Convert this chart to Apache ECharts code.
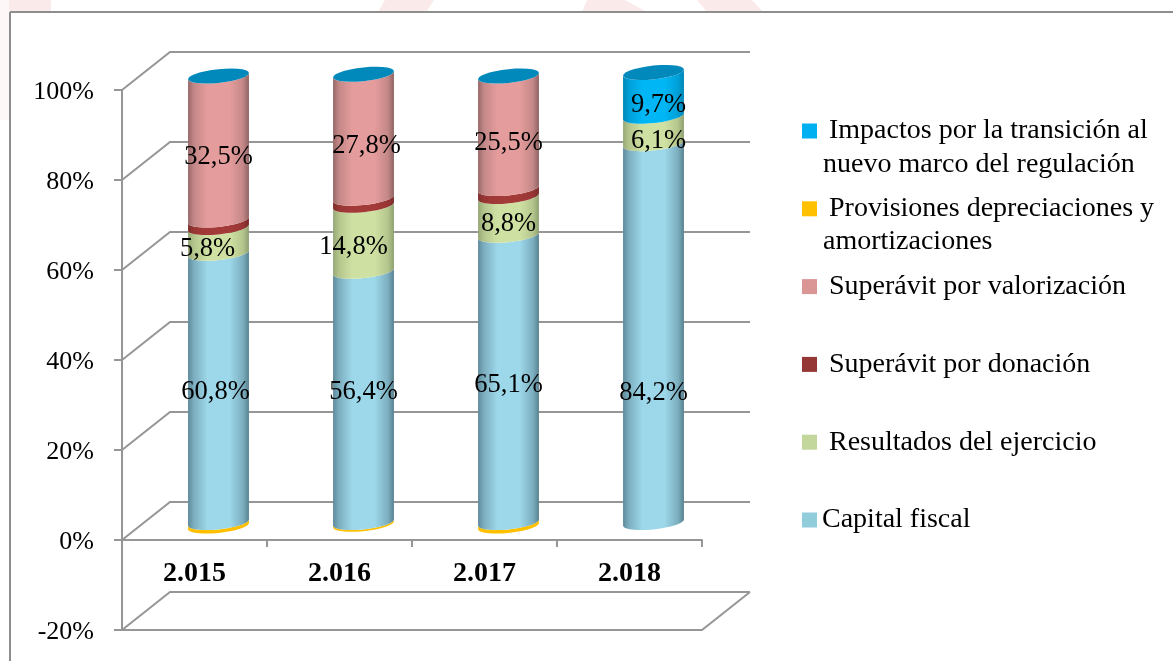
<!DOCTYPE html>
<html>
<head>
<meta charset="utf-8">
<style>html,body{margin:0;padding:0;background:#fff}#chart{width:1173px;height:661px}</style>
<script src="https://cdn.jsdelivr.net/npm/echarts@6/dist/echarts.min.js"></script>
</head>
<body>
<div id="chart"></div>
<script>
var categories = ['2.015', '2.016', '2.017', '2.018'];
var yTicks = [100, 80, 60, 40, 20, 0, -20];

// stacked bottom-up (percent)
var capitalFiscal   = [60.8, 56.4, 65.1, 84.2];
var resultados      = [5.8, 14.8, 8.8, 6.1];
var donacion        = [1.7, 1.6, 1.8, 0];
var valorizacion    = [32.5, 27.8, 25.5, 0];
var impactos        = [0, 0, 0, 9.7];
var provisiones     = [-0.8, -0.4, -0.8, 0];

var capitalLabels      = ['60,8%', '56,4%', '65,1%', '84,2%'];
var resultadosLabels   = ['5,8%', '14,8%', '8,8%', '6,1%'];
var valorizacionLabels = ['32,5%', '27,8%', '25,5%', ''];
var impactosLabels     = ['', '', '', '9,7%'];

// hand-placed label nudges from the centre of each segment, [dx, dy] px
var capitalNudge      = [[-3, 4], [0, -5], [0, 6], [0, 60]];
var resultadosNudge   = [[-11, 9], [-10, 9], [0, 8], [5, 11]];
var valorizacionNudge = [[0, 9], [3, 10], [0, 11], [0, 0]];
var impactosNudge     = [[0, 0], [0, 0], [0, 0], [5, 11]];

var legendLines = {
  'Impactos por la transición al nuevo marco del regulación': [' Impactos por la transición al', 'nuevo marco del regulación'],
  'Provisiones depreciaciones y amortizaciones': [' Provisiones depreciaciones y', 'amortizaciones'],
  'Superávit por valorización': [' Superávit por valorización'],
  'Superávit por donación': [' Superávit por donación'],
  'Resultados del ejercicio': [' Resultados del ejercicio'],
  'Capital fiscal': ['Capital fiscal']
};
var legendOrder = Object.keys(legendLines);

var FONT = '"Liberation Serif","Times New Roman",serif';
var DX = 24, DY = -17.5;       // 3D depth of the bars
var WX = 48, WY = -38;         // 3D depth of the walls
var LINE = '#969696';

function shade(edgeL, mid, edgeR) {
  return { type: 'linear', x: 0, y: 0, x2: 1, y2: 0, colorStops: [
    { offset: 0, color: edgeL }, { offset: 0.1, color: mid[0] }, { offset: 0.32, color: mid[1] },
    { offset: 0.68, color: mid[1] }, { offset: 0.9, color: mid[0] }, { offset: 1, color: edgeR } ] };
}
var looks = {
  prov: { legend: '#FFC000', body: '#FFC000' },
  cap:  { legend: '#92CDDC', body: shade('#5f8b9b', ['#7cafc0', '#9dd8ea'], '#598290') },
  res:  { legend: '#C3D69B', body: shade('#97a878', ['#b4c68c', '#cfe1a2'], '#8fa072') },
  don:  { legend: '#953735', body: shade('#7c2e2c', ['#983634', '#a23a38'], '#762c2a') },
  val:  { legend: '#D99694', body: shade('#976968', ['#c48888', '#e59c9c'], '#8f6463') },
  imp:  { legend: '#00B0F0', body: shade('#0086b5', ['#00a0d8', '#00b6f4'], '#0086b5') }
};

// 100% stack: each value is divided by the column's absolute sum
var stackOrder = [
  { name: legendOrder[4], key: 'res', vals: resultados, labels: resultadosLabels, nudge: resultadosNudge },
  { name: legendOrder[3], key: 'don', vals: donacion },
  { name: legendOrder[2], key: 'val', vals: valorizacion, labels: valorizacionLabels, nudge: valorizacionNudge },
  { name: legendOrder[0], key: 'imp', vals: impactos, labels: impactosLabels, nudge: impactosNudge, cap: true }
];
stackOrder.unshift({ name: legendOrder[5], key: 'cap', vals: capitalFiscal, labels: capitalLabels, nudge: capitalNudge });

var totals = categories.map(function (_, i) {
  return capitalFiscal[i] + resultados[i] + donacion[i] + valorizacion[i] + impactos[i] + Math.abs(provisiones[i]);
});
var labelData = [];
var running = categories.map(function () { return 0; });
var seriesList = [];

function arc(cx, cy, a, from, to) {
  var pts = [], n = 28, s = 3.1, b = 6.9;
  for (var i = 0; i <= n; i++) {
    var t = from + (to - from) * i / n;
    pts.push([cx + a * Math.cos(t), cy - s * Math.cos(t) + b * Math.sin(t)]);
  }
  return pts;
}
function cylinder(look, withCap) {
  return function (params, api) {
    var c = api.value(0), v0 = api.value(1), v1 = api.value(2);
    var p0 = api.coord([c, v0]), p1 = api.coord([c, v1]);
    var a = api.size([1, 0])[0] * 0.21;
    var cx = p0[0] + DX, y0 = p0[1] + DY, y1 = p1[1] + DY;
    var kids = [];
    if (v0 !== v1) {
      var pts = arc(cx, y0, a, Math.PI, 0).concat(arc(cx, y1, a, 0, Math.PI));
      kids.push({ type: 'polygon', shape: { points: pts }, style: { fill: look.body } });
    }
    if (withCap) {
      kids.push({ type: 'polygon', shape: { points: arc(cx, y1, a, 0, Math.PI * 2) }, style: { fill: '#0089BA' } });
    }
    return { type: 'group', children: kids, silent: true };
  };
}

// walls and gridlines
seriesList.push({
  type: 'custom', name: 'walls', coordinateSystem: 'cartesian2d', z: 1, silent: true, clip: false,
  data: yTicks.map(function (t) { return [0, t]; }), encode: { x: 0, y: 1 },
  renderItem: function (params, api) {
    var t = api.value(1), y = api.coord([0, t])[1];
    var x0 = params.coordSys.x, x1 = x0 + params.coordSys.width;
    var st = { stroke: LINE, lineWidth: 2, fill: null };
    var kids = [{ type: 'polyline', shape: { points: [[x0, y], [x0 + WX, y + WY], [x1 + WX, y + WY]] }, style: st }];
    if (t === yTicks[yTicks.length - 1]) {
      kids.push({ type: 'polyline', shape: { points: [[x0, y], [x1, y], [x1 + WX, y + WY]] }, style: st });
    }
    return { type: 'group', children: kids, silent: true };
  }
});

// negative series
seriesList.push({
  type: 'custom', name: legendOrder[1], coordinateSystem: 'cartesian2d', z: 2, silent: true, clip: false,
  itemStyle: { color: looks.prov.legend },
  data: provisiones.map(function (v, i) { return [i, v * 100 / totals[i], 0]; }),
  encode: { x: 0, y: [1, 2] }, renderItem: cylinder(looks.prov, false)
});

stackOrder.forEach(function (s, si) {
  var rows = s.vals.map(function (v, i) {
    var start = running[i], end = start + v * 100 / totals[i];
    running[i] = end;
    if (s.labels && s.labels[i]) {
      labelData.push([i, (start + end) / 2, s.labels[i], s.nudge[i][0], s.nudge[i][1]]);
    }
    return [i, start, end];
  });
  seriesList.push({
    type: 'custom', name: s.name, coordinateSystem: 'cartesian2d', z: 3 + si, silent: true, clip: false,
    itemStyle: { color: looks[s.key].legend },
    data: rows, encode: { x: 0, y: [1, 2] }, renderItem: cylinder(looks[s.key], !!s.cap)
  });
});

// data labels
seriesList.push({
  type: 'custom', name: 'labels', coordinateSystem: 'cartesian2d', z: 20, silent: true, clip: false,
  data: labelData, encode: { x: 0, y: 1 },
  renderItem: function (params, api) {
    var row = labelData[params.dataIndex];
    var p = api.coord([row[0], row[1]]);
    return { type: 'text', silent: true, style: {
      text: row[2], x: p[0] + DX + row[3], y: p[1] + DY + row[4],
      align: 'center', verticalAlign: 'middle', fill: '#000',
      font: '26.5px ' + FONT } };
  }
});

var legendY = [131, 208, 286, 364, 441, 518];
var extraLines = [];
legendOrder.forEach(function (n, i) {
  if (legendLines[n][1]) {
    extraLines.push({ type: 'text', x: 823, y: legendY[i] + 34, silent: true, z: 30,
      style: { text: legendLines[n][1], fill: '#000', font: '28px ' + FONT, verticalAlign: 'middle', align: 'left' } });
  }
});
var WM = '#FAEAEA';
var frame = [
  { type: 'polygon', silent: true, z: 0, shape: { points: [[7, 0], [51, 0], [51, 12], [7, 12]] }, style: { fill: WM } },
  { type: 'polygon', silent: true, z: 0, shape: { points: [[0, 0], [9, 0], [9, 120], [0, 120]] }, style: { fill: '#FEF7F7' } },
  { type: 'polygon', silent: true, z: 0, shape: { points: [[385, 0], [434, 0], [426, 12], [378, 12]] }, style: { fill: WM } },
  { type: 'polygon', silent: true, z: 0, shape: { points: [[587, 0], [625, 0], [647, 12], [582, 12]] }, style: { fill: WM } },
  { type: 'polygon', silent: true, z: 0, shape: { points: [[697, 0], [752, 0], [763, 12], [707, 12]] }, style: { fill: WM } },
  { type: 'line', silent: true, z: 1, shape: { x1: 10, y1: 12, x2: 1173, y2: 12 }, style: { stroke: '#8e8e8e', lineWidth: 2 } },
  { type: 'line', silent: true, z: 1, shape: { x1: 10, y1: 12, x2: 10, y2: 661 }, style: { stroke: '#8e8e8e', lineWidth: 2 } }
];

var chart = echarts.init(document.getElementById('chart'), null, { renderer: 'canvas' });
chart.setOption({
  animation: false,
  backgroundColor: '#fff',
  grid: { left: 122, right: 471, top: 90, bottom: 31, containLabel: false, outerBoundsMode: 'none' },
  xAxis: {
    type: 'category', data: categories, position: 'bottom', offset: -90,
    axisLine: { onZero: false, lineStyle: { color: LINE, width: 2 } },
    axisTick: { show: true, alignWithLabel: false, length: 7, lineStyle: { color: LINE, width: 2 } },
    axisLabel: { color: '#000', fontFamily: FONT, fontSize: 28, fontWeight: 'bold', margin: 20 },
    splitLine: { show: false }
  },
  yAxis: {
    type: 'value', min: -20, max: 100, interval: 20,
    axisLine: { show: true, lineStyle: { color: LINE, width: 2 } },
    axisTick: { show: true, length: 8, lineStyle: { color: LINE, width: 2 } },
    axisLabel: { color: '#000', fontFamily: FONT, fontSize: 26, margin: 28, verticalAlign: 'top', lineHeight: 4, formatter: '{value}%' },
    splitLine: { show: false }
  },
  legend: {
    orient: 'vertical', left: 802, top: 116, padding: 0,
    itemWidth: 15, itemHeight: 15, itemGap: 47.8, selectedMode: false,
    icon: 'rect',
    data: legendOrder.map(function (n) { return { name: n, itemStyle: { color: stackOrder.concat([{ name: legendOrder[1], key: 'prov' }]).filter(function (s) { return s.name === n; }).map(function (s) { return looks[s.key].legend; })[0] } }; }),
    formatter: function (n) { return legendLines[n][0]; },
    textStyle: { color: '#000', fontFamily: FONT, fontSize: 28, lineHeight: 30, padding: 0 }
  },
  graphic: frame.concat(extraLines),
  series: seriesList
});
</script>
</body>
</html>
